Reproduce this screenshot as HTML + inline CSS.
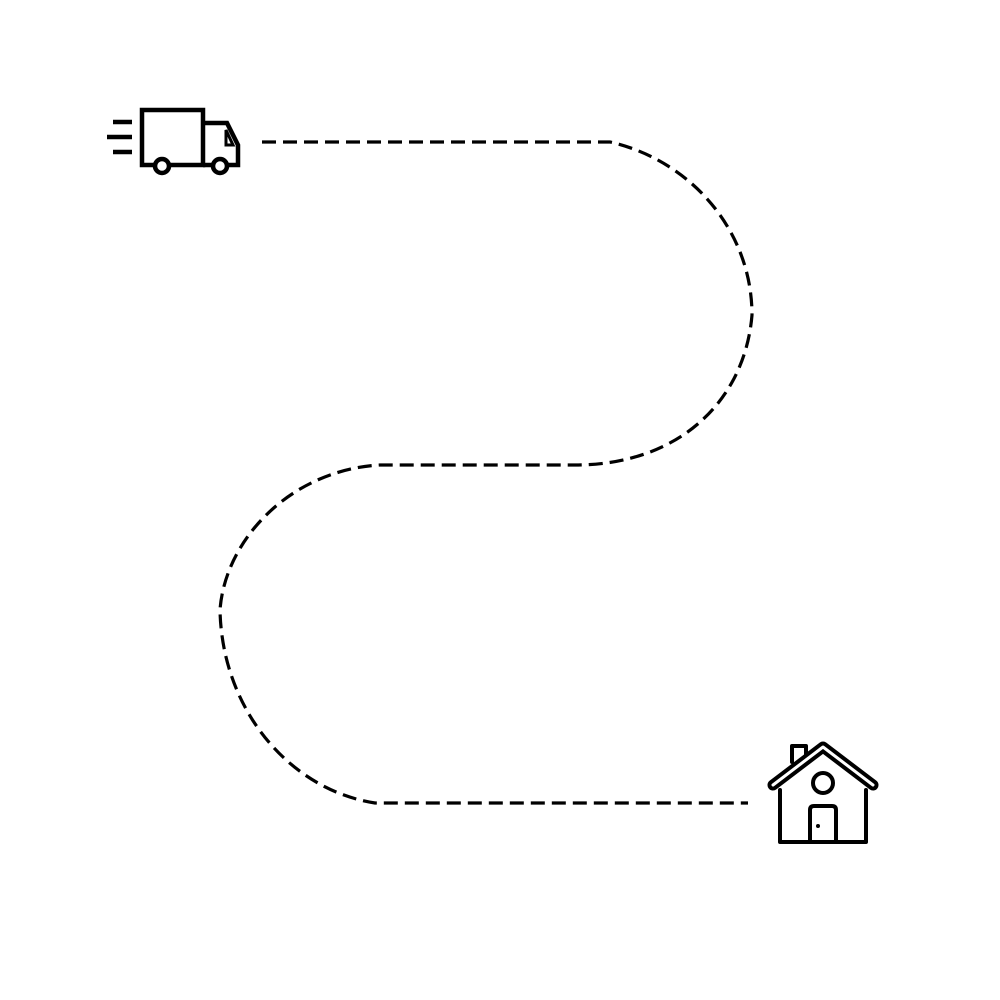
<!DOCTYPE html>
<html><head><meta charset="utf-8"><style>html,body{margin:0;padding:0;background:#fff}svg{display:block}</style></head>
<body>
<svg width="1000" height="1000" viewBox="0 0 1000 1000">
<rect width="1000" height="1000" fill="#fff"/>
<path d="M262,142 L610,142 C690,160 752,230 752,315 C745,400 680,465 575,465 L380,465 C290,470 225,540 220,610 C222,710 290,790 375,803 L748,803" fill="none" stroke="#000" stroke-width="3.2" stroke-dasharray="14,7"/>
<g fill="none" stroke="#000" stroke-width="4.5" stroke-linejoin="miter">
<line x1="113" y1="122" x2="132" y2="122"/>
<line x1="107" y1="137" x2="132" y2="137"/>
<line x1="113" y1="152" x2="132" y2="152"/>
<path d="M142,110 H203 V165 H142 Z"/>
<path d="M203,123 H227 L238,145 V165 H203"/>
<path d="M226,130 L233,145 H226 Z" stroke-width="3"/>
<circle cx="162" cy="166" r="7" fill="#fff"/>
<circle cx="220" cy="166" r="7" fill="#fff"/>
</g>
<g fill="none" stroke="#000" stroke-width="4" stroke-linejoin="round" stroke-linecap="round">
<path d="M792,762 V746 H806 V755" fill="#fff"/>
<path d="M773,785 L823,747 L873,785" stroke-width="11"/>
<path d="M773,785 L823,747 L873,785" stroke="#fff" stroke-width="3"/>
<path d="M780,790 V842 H866 V790"/>
<circle cx="823" cy="783" r="10"/>
<path d="M810,842 V810 Q810,806 814,806 H832 Q836,806 836,810 V842"/>
<circle cx="818" cy="826" r="2" fill="#000" stroke="none"/>
</g>
</svg>
</body></html>
